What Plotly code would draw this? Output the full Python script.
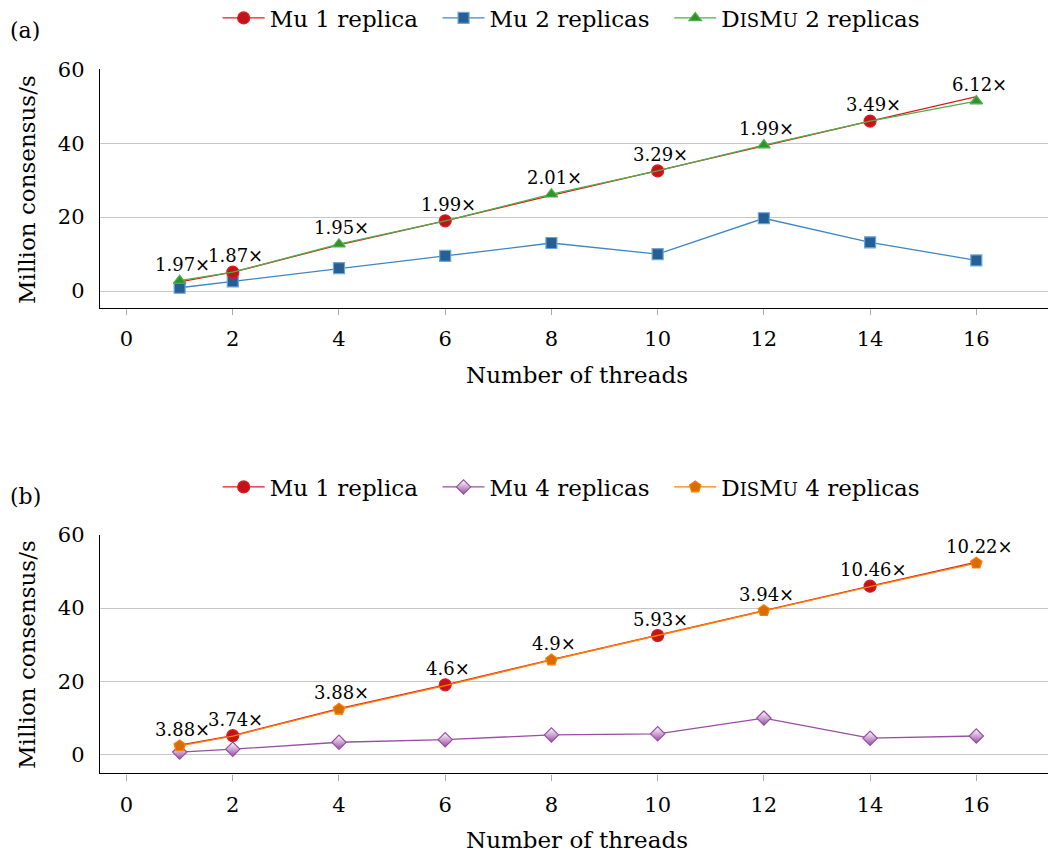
import plotly.graph_objects as go

threads = [1, 2, 4, 6, 8, 10, 12, 14, 16]
mu1 = [2.5, 5.1, 12.5, 19.0, 25.9, 32.5, 39.3, 46.0, 52.6]
mu2 = [0.9, 2.6, 6.2, 9.5, 13.0, 10.0, 19.7, 13.2, 8.3]
dismu2 = [2.8, 5.1, 12.7, 19.0, 26.2, 32.5, 39.5, 46.0, 51.4]
mu4 = [0.6, 1.4, 3.3, 4.0, 5.3, 5.6, 9.9, 4.4, 5.0]
dismu4 = [2.3, 5.0, 12.3, 18.8, 25.8, 32.5, 39.3, 45.9, 52.3]
speedup_a = ["1.97×", "1.87×", "1.95×", "1.99×", "2.01×", "3.29×", "1.99×", "3.49×", "6.12×"]
speedup_b = ["3.88×", "3.74×", "3.88×", "4.6×", "4.9×", "5.93×", "3.94×", "10.46×", "10.22×"]
xticks = [0, 2, 4, 6, 8, 10, 12, 14, 16]
yticks = [0, 20, 40, 60]

FONT = "DejaVu Serif"
RED_L, RED_M = "#e41a1c", "#c0141a"
BLUE_L, BLUE_M = "#3f86c4", "#265f94"
GREEN_L, GREEN_M = "#4daf4a", "#2f932d"
PURP_L = "#984ea3"
ORNG_L, ORNG_M = "#ff7f00", "#d86c00"

# which series shows its marker at each point
show_mu1 = [i % 2 == 1 for i in range(len(threads))]
show_dis = [not s for s in show_mu1]

def sizes(mask, s):
    return [s if m else 0 for m in mask]

fig = go.Figure()

def add_series(x, y, name, lc, mc, mlc, symbol, size, xa, ya, legend, mask=None, half=False, rank=0):
    msize = size if mask is None else sizes(mask, size)
    mk = dict(symbol=symbol, color=mc, opacity=1, line=dict(color=mlc, width=1.2))
    if half:
        mk["color"] = "white"
        mk["gradient"] = dict(type="vertical", color=mc)
    fig.add_trace(go.Scatter(
        x=x, y=y, mode="lines+markers", showlegend=False,
        line=dict(color=lc, width=1.3), marker=dict(mk, size=msize),
        xaxis=xa, yaxis=ya))
    fig.add_trace(go.Scatter(
        x=[None], y=[None], mode="lines+markers", name=name, legend=legend, legendrank=rank,
        line=dict(color=lc, width=1.3), marker=dict(mk, size=size),
        xaxis=xa, yaxis=ya))

SC = "<span style='font-size:18px'>"
dis = "D" + SC + "IS</span>M" + SC + "U</span>"
PAD = "\u00a0\u00a0"

# (a)
add_series(threads, mu2, "Mu 2 replicas" + PAD, BLUE_L, BLUE_M, "#6aa6dc", "square", 11, "x", "y", "legend", rank=2)
add_series(threads, mu1, "Mu 1 replica" + PAD, RED_L, RED_M, RED_L, "circle", 12, "x", "y", "legend", show_mu1, rank=1)
add_series(threads, dismu2, dis + " 2 replicas", GREEN_L, GREEN_M, GREEN_L, "triangle-up", 11, "x", "y", "legend", show_dis, rank=3)
# (b)
add_series(threads, mu4, "Mu 4 replicas" + PAD, PURP_L, PURP_L, PURP_L, "diamond", 11, "x2", "y2", "legend2", half=True, rank=2)
add_series(threads, mu1, "Mu 1 replica" + PAD, RED_L, RED_M, RED_L, "circle", 12, "x2", "y2", "legend2", show_mu1, rank=1)
add_series(threads, dismu4, dis + " 4 replicas", ORNG_L, ORNG_M, ORNG_L, "pentagon", 12, "x2", "y2", "legend2", show_dis, rank=3)

# speedup labels
for i, x in enumerate(threads):
    ya_val = mu1[i] if show_mu1[i] else dismu2[i]
    fig.add_annotation(x=x, y=ya_val, xref="x", yref="y", text=speedup_a[i], showarrow=False,
                       yanchor="bottom", yshift=4, xshift=3, font=dict(family=FONT, size=18, color="black"))
    yb_val = mu1[i] if show_mu1[i] else dismu4[i]
    fig.add_annotation(x=x, y=yb_val, xref="x2", yref="y2", text=speedup_b[i], showarrow=False,
                       yanchor="bottom", yshift=4, xshift=3, font=dict(family=FONT, size=18, color="black"))

H = 855
def py(p):
    return 1 - p / H

xdom = [100 / 1048, 1.0]
axis_common = dict(showline=True, linecolor="black", linewidth=1.4, zeroline=False,
                   tickfont=dict(family=FONT, size=21, color="black"))
xaxis_common = dict(axis_common, range=[-0.5, 17.35], tickvals=xticks, ticks="outside", ticklen=6,
                    tickcolor="#aaaaaa", tickwidth=1.2, showgrid=False, ticklabelstandoff=6)
yaxis_common = dict(axis_common, tickvals=yticks, ticks="", showgrid=True, gridcolor="#c8c8c8",
                    gridwidth=1.2, ticklabelstandoff=10)

leg_common = dict(orientation="h", x=0.545, xanchor="center", yanchor="middle",
                  font=dict(family=FONT, size=23), itemwidth=42, bgcolor="rgba(0,0,0,0)",
                  traceorder="normal")

fig.update_layout(
    width=1048, height=H, margin=dict(l=0, r=0, t=0, b=0, autoexpand=False),
    plot_bgcolor="white", paper_bgcolor="white",
    font=dict(family=FONT, size=21, color="black"),
    xaxis=dict(xaxis_common, domain=xdom, anchor="y"),
    yaxis=dict(yaxis_common, domain=[py(307.7), py(69.3)], range=[-4.5, 60], anchor="x"),
    xaxis2=dict(xaxis_common, domain=xdom, anchor="y2"),
    yaxis2=dict(yaxis_common, domain=[py(773.3), py(535)], range=[-5.2, 60], anchor="x2"),
    legend=dict(leg_common, y=py(18)),
    legend2=dict(leg_common, y=py(487)),
)

# panel labels and axis titles
for txt, yy in [("(a)", 30), ("(b)", 497)]:
    fig.add_annotation(x=8 / 1048, y=py(yy), xref="paper", yref="paper", text=txt, showarrow=False,
                       xanchor="left", yanchor="middle", font=dict(family=FONT, size=22))
for yy in [375, 840]:
    fig.add_annotation(x=577 / 1048, y=py(yy), xref="paper", yref="paper", text="Number of threads",
                       showarrow=False, xanchor="center", yanchor="middle", font=dict(family=FONT, size=23))
for yy in [190, 655]:
    fig.add_annotation(x=27 / 1048, y=py(yy), xref="paper", yref="paper", text="Million consensus/s",
                       showarrow=False, textangle=-90, xanchor="center", yanchor="middle",
                       font=dict(family=FONT, size=23))

fig.write_html("out.html", config={"displayModeBar": False},
               post_script="document.body.style.margin='0';document.body.style.overflow='hidden';")
